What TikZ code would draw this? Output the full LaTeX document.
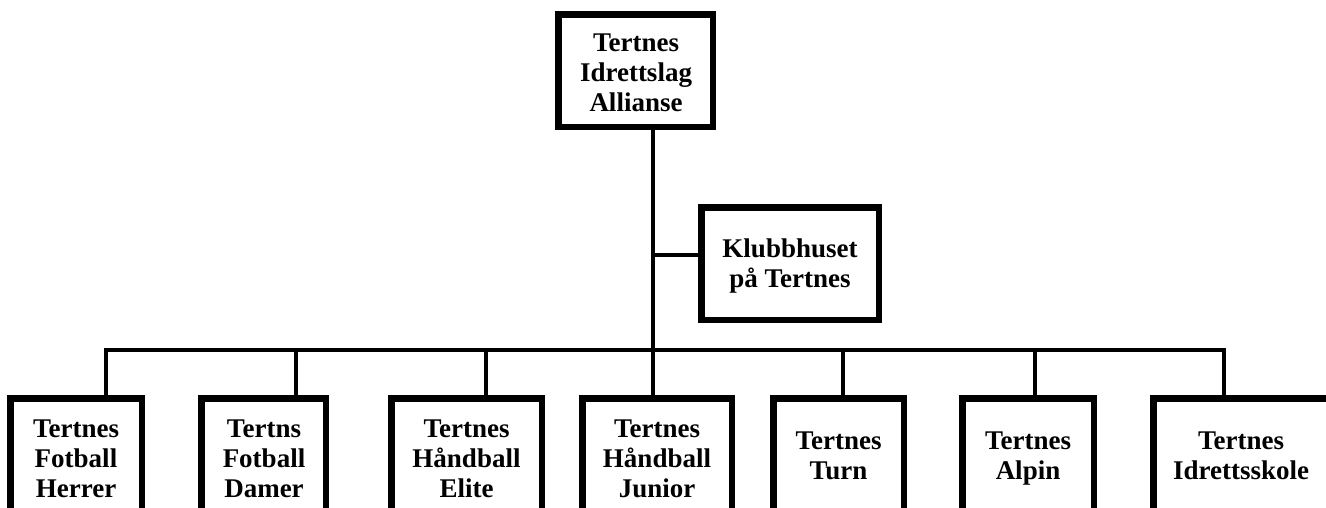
\documentclass[tikz,border=0pt]{standalone}
\usepackage{fontspec}
\setmainfont{Liberation Serif}
\begin{document}
\begin{tikzpicture}[x=0.75pt,y=-0.75pt,
  bx/.style={draw=black,line width=4.875pt,rectangle,inner sep=0pt,fill=white},
  lbl/.style={align=center,inner sep=0pt,anchor=base,font=\bfseries\fontsize{20.25pt}{22.5pt}\selectfont},
  conn/.style={draw=black,line width=3pt,line join=miter}]
\useasboundingbox (0,0) rectangle (1326,507);
\clip (0,0) rectangle (1326,507);
% boxes
\node[bx,minimum width=115.875pt,minimum height=84.375pt] (T) at (635.5,70.5) {};
\node[bx,minimum width=133.125pt,minimum height=84.375pt] (K) at (790,263.5) {};
\node[bx,minimum width=98.625pt,minimum height=118.875pt] (b1) at (76,477.5) {};
\node[bx,minimum width=93.375pt,minimum height=118.875pt] (b2) at (263.5,477.5) {};
\node[bx,minimum width=112.875pt,minimum height=118.875pt] (b3) at (466.5,477.5) {};
\node[bx,minimum width=112.125pt,minimum height=118.875pt] (b4) at (657,477.5) {};
\node[bx,minimum width=97.875pt,minimum height=118.875pt] (b5) at (838.5,477.5) {};
\node[bx,minimum width=98.625pt,minimum height=118.875pt] (b6) at (1028,477.5) {};
\node[bx,minimum width=131.625pt,minimum height=118.875pt] (b7) at (1241,477.5) {};
% texts (base anchor = baseline of last line)
\node[lbl] (tT) at (636,111) {Tertnes\\Idrettslag\\Allianse};
\node[lbl] (tK) at (790,287) {Klubbhuset\\på Tertnes};
\node[lbl] (t1) at (76,497) {Tertnes\\Fotball\\Herrer};
\node[lbl] (t2) at (264,497) {Tertns\\Fotball\\Damer};
\node[lbl] (t3) at (466.5,497) {Tertnes\\Håndball\\Elite};
\node[lbl] (t4) at (657,497) {Tertnes\\Håndball\\Junior};
\node[lbl] (t5) at (838.5,479) {Tertnes\\Turn};
\node[lbl] (t6) at (1028,479) {Tertnes\\Alpin};
\node[lbl] (t7) at (1241,479) {Tertnes\\Idrettsskole};
% connector points
\coordinate (j) at (653,350);
\coordinate (k) at (653,255);
\coordinate (c1) at (106,350);
\coordinate (c2) at (296,350);
\coordinate (c3) at (486,350);
\coordinate (c4) at (653,350);
\coordinate (c5) at (843,350);
\coordinate (c6) at (1035,350);
\coordinate (c7) at (1224,350);
% connectors
\draw[conn] (T.south -| j) -- (j);
\draw[conn] (k) -- (K.west |- k);
\draw[conn] (c1 |- b1.north) -- (c1) -- (c7) -- (c7 |- b7.north);
\draw[conn] (c2) -- (c2 |- b2.north);
\draw[conn] (c3) -- (c3 |- b3.north);
\draw[conn] (c4) -- (c4 |- b4.north);
\draw[conn] (c5) -- (c5 |- b5.north);
\draw[conn] (c6) -- (c6 |- b6.north);
\end{tikzpicture}
\end{document}
